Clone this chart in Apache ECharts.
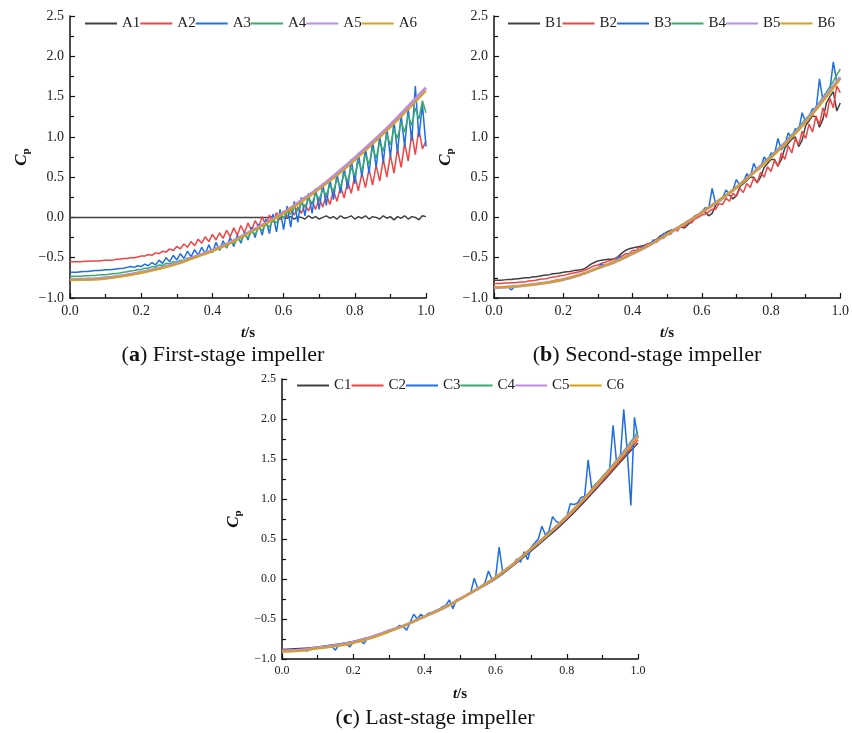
<!DOCTYPE html>
<html>
<head>
<meta charset="utf-8">
<script src="https://cdn.jsdelivr.net/npm/echarts@6/dist/echarts.min.js"></script>
<style>
  html, body { margin: 0; padding: 0; background: #fff; }
  #main { width: 852px; height: 733px; }
</style>
</head>
<body>
<div id="main"></div>
<script>
// time stamps (s)
const T_FINE = [
  0.00, 0.01, 0.02, 0.03, 0.04, 0.05, 0.06, 0.07, 0.08, 0.09,
  0.10, 0.11, 0.12, 0.13, 0.14, 0.15, 0.16, 0.17, 0.18, 0.19,
  0.20, 0.21, 0.22, 0.23, 0.24, 0.25, 0.26, 0.27, 0.28, 0.29,
  0.30, 0.31, 0.32, 0.33, 0.34, 0.35, 0.36, 0.37, 0.38, 0.39,
  0.40, 0.41, 0.42, 0.43, 0.44, 0.45, 0.46, 0.47, 0.48, 0.49,
  0.50, 0.51, 0.52, 0.53, 0.54, 0.55, 0.56, 0.57, 0.58, 0.59,
  0.60, 0.61, 0.62, 0.63, 0.64, 0.65, 0.66, 0.67, 0.68, 0.69,
  0.70, 0.71, 0.72, 0.73, 0.74, 0.75, 0.76, 0.77, 0.78, 0.79,
  0.80, 0.81, 0.82, 0.83, 0.84, 0.85, 0.86, 0.87, 0.88, 0.89,
  0.90, 0.91, 0.92, 0.93, 0.94, 0.95, 0.96, 0.97, 0.98, 0.99, 1.00
];
const T_COARSE = [0.00, 0.05, 0.10, 0.15, 0.20, 0.25, 0.30, 0.35, 0.40, 0.45, 0.50,
  0.55, 0.60, 0.65, 0.70, 0.75, 0.80, 0.85, 0.90, 0.95, 1.00];

// (a) first-stage impeller
const A1 = [
  0, 0, 0, 0, 0, 0, 0, 0, 0, 0,
  0, 0, 0, 0, 0, 0, 0, 0, 0, 0,
  0, 0, 0, 0, 0, 0, 0, 0, 0, 0,
  0, 0, 0, 0, 0, 0, 0, 0, 0, 0,
  0, 0, 0, 0, 0, 0, 0, 0, 0, 0,
  0, 0, 0, 0, 0, 0, 0, 0.01, -0.01, 0.02,
  0.00, -0.01, 0.01, -0.02, 0.01, 0.00, -0.02, 0.02, -0.01, 0.01,
  -0.02, 0.00, 0.02, -0.01, 0.01, -0.02, 0.02, -0.01, 0.00, 0.02,
  -0.02, 0.01, -0.01, 0.02, -0.02, 0.01, 0.00, -0.02, 0.02, -0.01,
  0.01, -0.03, 0.01, -0.01, 0.02, -0.02, 0.01, 0.00, -0.03, 0.02, 0.01
];
const A2 = [
  -0.55, -0.55, -0.55, -0.55, -0.545, -0.545, -0.54, -0.54, -0.54, -0.535,
  -0.53, -0.53, -0.53, -0.52, -0.52, -0.51, -0.51, -0.50, -0.50, -0.49,
  -0.48, -0.48, -0.46, -0.47, -0.44, -0.45, -0.42, -0.43, -0.39, -0.41,
  -0.36, -0.39, -0.33, -0.37, -0.30, -0.35, -0.27, -0.32, -0.24, -0.30,
  -0.21, -0.28, -0.19, -0.26, -0.16, -0.24, -0.13, -0.22, -0.10, -0.19,
  -0.07, -0.16, -0.04, -0.12, 0.01, -0.10, 0.03, -0.06, 0.06, -0.03,
  0.08, 0.00, 0.10, 0.03, 0.13, 0.05, 0.16, 0.08, 0.20, 0.10,
  0.24, 0.13, 0.28, 0.16, 0.33, 0.20, 0.38, 0.24, 0.45, 0.30,
  0.52, 0.33, 0.55, 0.37, 0.60, 0.40, 0.65, 0.45, 0.72, 0.50,
  0.78, 0.55, 0.85, 0.62, 0.92, 0.70, 1.05, 0.78, 1.10, 0.85, 0.95
];
const A3 = [
  -0.68, -0.68, -0.68, -0.675, -0.67, -0.67, -0.665, -0.66, -0.66, -0.655,
  -0.65, -0.65, -0.645, -0.64, -0.635, -0.63, -0.62, -0.61, -0.62, -0.60,
  -0.61, -0.58, -0.60, -0.56, -0.59, -0.53, -0.57, -0.50, -0.55, -0.47,
  -0.53, -0.45, -0.51, -0.42, -0.49, -0.40, -0.47, -0.37, -0.45, -0.34,
  -0.44, -0.31, -0.41, -0.29, -0.38, -0.25, -0.36, -0.22, -0.32, -0.18,
  -0.28, -0.12, -0.25, -0.08, -0.22, -0.02, -0.20, 0.04, -0.18, 0.10,
  -0.15, 0.14, -0.12, 0.20, -0.06, 0.25, 0.02, 0.30, 0.05, 0.36,
  0.10, 0.42, 0.15, 0.48, 0.22, 0.55, 0.30, 0.62, 0.35, 0.72,
  0.42, 0.80, 0.50, 0.86, 0.55, 0.95, 0.62, 1.02, 0.68, 1.10,
  0.75, 1.20, 0.80, 1.28, 0.88, 1.35, 0.95, 1.63, 1.00, 1.40, 0.88
];
const A4 = [
  -0.73, -0.73, -0.73, -0.73, -0.725, -0.725, -0.72, -0.72, -0.715, -0.71,
  -0.71, -0.705, -0.70, -0.695, -0.69, -0.68, -0.675, -0.665, -0.66, -0.65,
  -0.645, -0.63, -0.63, -0.61, -0.615, -0.59, -0.595, -0.57, -0.575, -0.55,
  -0.555, -0.53, -0.535, -0.50, -0.51, -0.48, -0.49, -0.45, -0.46, -0.42,
  -0.43, -0.38, -0.40, -0.35, -0.37, -0.31, -0.33, -0.27, -0.29, -0.22,
  -0.25, -0.18, -0.21, -0.13, -0.16, -0.08, -0.12, -0.03, -0.07, 0.03,
  -0.01, 0.08, 0.04, 0.13, 0.08, 0.18, 0.13, 0.23, 0.18, 0.29,
  0.23, 0.34, 0.28, 0.40, 0.33, 0.47, 0.38, 0.54, 0.45, 0.62,
  0.52, 0.70, 0.58, 0.78, 0.66, 0.86, 0.74, 0.94, 0.82, 1.03,
  0.90, 1.10, 0.98, 1.18, 1.06, 1.27, 1.14, 1.36, 1.22, 1.45, 1.30
];
const A5 = [-0.77, -0.765, -0.75, -0.72, -0.68, -0.63, -0.57, -0.49, -0.41, -0.31, -0.19,
  -0.07, 0.06, 0.21, 0.37, 0.55, 0.74, 0.94, 1.15, 1.38, 1.61];
const A6 = [-0.78, -0.775, -0.76, -0.73, -0.69, -0.64, -0.58, -0.50, -0.42, -0.32, -0.20,
  -0.08, 0.05, 0.19, 0.35, 0.52, 0.71, 0.91, 1.12, 1.34, 1.57];

// (b) second-stage impeller
const B1 = [
  -0.78, -0.78, -0.78, -0.775, -0.77, -0.77, -0.765, -0.76, -0.755, -0.75,
  -0.75, -0.74, -0.735, -0.73, -0.72, -0.715, -0.71, -0.70, -0.695, -0.69,
  -0.68, -0.675, -0.67, -0.66, -0.655, -0.65, -0.64, -0.61, -0.58, -0.56,
  -0.54, -0.53, -0.525, -0.52, -0.52, -0.51, -0.48, -0.44, -0.41, -0.39,
  -0.38, -0.37, -0.36, -0.35, -0.34, -0.32, -0.30, -0.27, -0.23, -0.21,
  -0.18, -0.16, -0.15, -0.13, -0.12, -0.13, -0.09, -0.04, -0.01, 0.03,
  0.06, 0.07, 0.02, 0.05, 0.15, 0.20, 0.23, 0.27, 0.28, 0.23,
  0.27, 0.38, 0.42, 0.46, 0.50, 0.50, 0.43, 0.50, 0.62, 0.67,
  0.72, 0.72, 0.64, 0.72, 0.86, 0.92, 0.97, 1.00, 0.88, 0.96,
  1.14, 1.20, 1.26, 1.25, 1.12, 1.22, 1.42, 1.50, 1.56, 1.32, 1.42
];
const B2 = [
  -0.82, -0.82, -0.82, -0.815, -0.815, -0.81, -0.81, -0.805, -0.80, -0.80,
  -0.79, -0.785, -0.78, -0.77, -0.765, -0.76, -0.75, -0.74, -0.735, -0.725,
  -0.72, -0.71, -0.70, -0.69, -0.68, -0.67, -0.66, -0.64, -0.62, -0.60,
  -0.59, -0.57, -0.56, -0.54, -0.53, -0.51, -0.49, -0.48, -0.45, -0.45,
  -0.41, -0.41, -0.37, -0.38, -0.33, -0.34, -0.29, -0.31, -0.25, -0.26,
  -0.20, -0.21, -0.15, -0.17, -0.10, -0.12, -0.06, -0.07, -0.02, 0.00,
  0.03, 0.04, 0.07, 0.10, 0.10, 0.17, 0.16, 0.24, 0.20, 0.30,
  0.26, 0.36, 0.31, 0.42, 0.37, 0.49, 0.43, 0.56, 0.50, 0.63,
  0.57, 0.71, 0.63, 0.80, 0.72, 0.89, 0.80, 0.98, 0.90, 1.07,
  0.98, 1.16, 1.06, 1.26, 1.15, 1.36, 1.24, 1.48, 1.36, 1.63, 1.55
];
const B3 = [
  -0.87, -0.87, -0.87, -0.865, -0.86, -0.90, -0.855, -0.85, -0.85, -0.845,
  -0.84, -0.835, -0.83, -0.82, -0.81, -0.81, -0.80, -0.79, -0.78, -0.775,
  -0.77, -0.76, -0.75, -0.74, -0.72, -0.71, -0.70, -0.68, -0.66, -0.65,
  -0.63, -0.58, -0.60, -0.58, -0.56, -0.54, -0.49, -0.51, -0.48, -0.46,
  -0.45, -0.41, -0.41, -0.36, -0.36, -0.34, -0.28, -0.29, -0.25, -0.20,
  -0.21, -0.17, -0.15, -0.14, -0.10, -0.08, -0.04, -0.03, 0.02, 0.03,
  0.07, 0.12, 0.11, 0.36, 0.17, 0.22, 0.24, 0.34, 0.29, 0.34,
  0.47, 0.40, 0.44, 0.54, 0.50, 0.67, 0.58, 0.62, 0.75, 0.69,
  0.80, 0.78, 0.98, 0.84, 0.90, 1.05, 0.98, 1.10, 1.08, 1.30,
  1.18, 1.25, 1.35, 1.33, 1.72, 1.45, 1.50, 1.58, 1.93, 1.68, 1.72
];
const B4 = [-0.87, -0.86, -0.84, -0.81, -0.77, -0.71, -0.63, -0.55, -0.45, -0.34, -0.21,
  -0.08, 0.07, 0.22, 0.38, 0.57, 0.77, 0.98, 1.22, 1.49, 1.84];
const B5 = [-0.87, -0.86, -0.84, -0.81, -0.77, -0.71, -0.63, -0.55, -0.45, -0.34, -0.21,
  -0.08, 0.06, 0.21, 0.37, 0.56, 0.75, 0.96, 1.19, 1.46, 1.74];
const B6 = [-0.87, -0.86, -0.84, -0.81, -0.77, -0.71, -0.63, -0.55, -0.45, -0.34, -0.21,
  -0.08, 0.06, 0.21, 0.37, 0.55, 0.74, 0.95, 1.18, 1.44, 1.72];

// (c) last-stage impeller
const C1 = [-0.88, -0.87, -0.85, -0.82, -0.78, -0.72, -0.65, -0.57, -0.47, -0.37, -0.25,
  -0.13, 0.00, 0.17, 0.35, 0.54, 0.74, 0.97, 1.21, 1.46, 1.70];
const C2 = [-0.89, -0.88, -0.86, -0.83, -0.79, -0.73, -0.65, -0.57, -0.47, -0.37, -0.25,
  -0.12, 0.02, 0.18, 0.37, 0.56, 0.76, 0.99, 1.23, 1.48, 1.74];
const C3 = [
  -0.90, -0.90, -0.895, -0.89, -0.89, -0.885, -0.88, -0.90, -0.875, -0.87,
  -0.86, -0.86, -0.85, -0.84, -0.84, -0.89, -0.82, -0.81, -0.80, -0.85,
  -0.79, -0.78, -0.77, -0.81, -0.74, -0.73, -0.72, -0.70, -0.69, -0.67,
  -0.64, -0.64, -0.62, -0.58, -0.59, -0.64, -0.54, -0.44, -0.50, -0.44,
  -0.48, -0.43, -0.42, -0.40, -0.38, -0.35, -0.33, -0.26, -0.37, -0.26,
  -0.25, -0.22, -0.20, -0.17, 0.01, -0.12, -0.09, -0.05, 0.10, -0.01,
  0.02, 0.40, 0.08, 0.12, 0.14, 0.19, 0.25, 0.21, 0.34, 0.24,
  0.40, 0.45, 0.50, 0.66, 0.55, 0.60, 0.78, 0.72, 0.70, 0.74,
  0.78, 0.94, 0.93, 0.95, 1.02, 1.03, 1.49, 1.13, 1.18, 1.22,
  1.25, 1.31, 1.36, 1.92, 1.45, 1.50, 2.12, 1.58, 0.92, 2.02, 1.76
];
const C4 = [-0.90, -0.89, -0.86, -0.83, -0.79, -0.73, -0.65, -0.57, -0.47, -0.37, -0.25,
  -0.12, 0.02, 0.19, 0.38, 0.57, 0.79, 1.02, 1.28, 1.54, 1.84];
const C5 = [-0.90, -0.89, -0.86, -0.83, -0.79, -0.73, -0.65, -0.57, -0.47, -0.37, -0.25,
  -0.12, 0.02, 0.19, 0.38, 0.57, 0.78, 1.01, 1.26, 1.52, 1.80];
const C6 = [-0.91, -0.90, -0.87, -0.84, -0.80, -0.74, -0.66, -0.57, -0.47, -0.37, -0.25,
  -0.12, 0.02, 0.19, 0.38, 0.57, 0.78, 1.01, 1.26, 1.51, 1.78];

const NAMES_A = ['A1', 'A2', 'A3', 'A4', 'A5', 'A6'];
const NAMES_B = ['B1', 'B2', 'B3', 'B4', 'B5', 'B6'];
const NAMES_C = ['C1', 'C2', 'C3', 'C4', 'C5', 'C6'];
const CAPTIONS = ['({b|a}) First-stage impeller', '({b|b}) Second-stage impeller', '({b|c}) Last-stage impeller'];

const COLORS = ['#404040', '#f04444', '#1f6fe3', '#3aab6c', '#ba8de2', '#d5a11d'];
const WIDTHS = [1.5, 1.5, 1.5, 1.5, 3, 2];
const FONT = 'Liberation Serif';

const panels = [
  { names: NAMES_A, values: [A1, A2, A3, A4, A5, A6], grid: { left: 70, top: 16, width: 356, height: 282 },
    legendLeft: 85, legendTop: 16, caption: [223, 355], labelSize: 14 },
  { names: NAMES_B, values: [B1, B2, B3, B4, B5, B6], grid: { left: 494, top: 16, width: 355, height: 282 },
    legendLeft: 508, legendTop: 16, caption: [647, 355], labelSize: 14 },
  { names: NAMES_C, values: [C1, C2, C3, C4, C5, C6], grid: { left: 282, top: 379, width: 356, height: 280 },
    legendLeft: 297, legendTop: 378, caption: [435, 718], labelSize: 12 }
];

function pairs(vals) {
  const t = vals.length === T_FINE.length ? T_FINE : T_COARSE;
  return vals.map((v, i) => [t[i], v]);
}

const axisLine = { show: true, onZero: false, lineStyle: { color: '#111', width: 1.5 } };
const fmt = v => v.toFixed(1).replace('-', '\u2212');

const grids = [], xAxes = [], yAxes = [], legends = [], series = [], graphics = [];

panels.forEach((p, gi) => {
  grids.push(p.grid);
  xAxes.push({
    type: 'value', gridIndex: gi, min: 0, max: 1, interval: 0.2,
    axisLine, splitLine: { show: false },
    axisTick: { inside: true, length: 5, lineStyle: { color: '#111', width: 1.2 } },
    minorTick: { show: true, splitNumber: 2, length: 4, lineStyle: { color: '#111', width: 1.2 } },
    axisLabel: { formatter: fmt, fontFamily: FONT, fontSize: p.labelSize, color: '#222', margin: 6 },
    name: '{t|t}{s|/s}', nameLocation: 'middle', nameGap: 28,
    nameTextStyle: { rich: {
      t: { fontFamily: FONT, fontStyle: 'italic', fontWeight: 'bold', fontSize: 15, color: '#111' },
      s: { fontFamily: FONT, fontWeight: 'bold', fontSize: 15, color: '#111' }
    } }
  });
  yAxes.push({
    type: 'value', gridIndex: gi, min: -1, max: 2.5, interval: 0.5,
    axisLine, splitLine: { show: false },
    axisTick: { inside: true, length: 5, lineStyle: { color: '#111', width: 1.2 } },
    minorTick: { show: true, splitNumber: 2, length: 4, lineStyle: { color: '#111', width: 1.2 } },
    axisLabel: { formatter: fmt, fontFamily: FONT, fontSize: p.labelSize, color: '#222', margin: 6 },
    name: '{c|C}{p|p}', nameLocation: 'middle', nameGap: 38,
    nameTextStyle: { rich: {
      c: { fontFamily: FONT, fontStyle: 'italic', fontWeight: 'bold', fontSize: 17, color: '#111' },
      p: { fontFamily: FONT, fontWeight: 'bold', fontSize: 11, color: '#111', padding: [10, 0, 0, 0] }
    } }
  });
  legends.push({
    data: p.names, left: p.legendLeft, top: p.legendTop, orient: 'horizontal',
    icon: 'rect', itemWidth: 32, itemHeight: 2, itemGap: 0, padding: 0,
    textStyle: { fontFamily: FONT, fontSize: 15, color: '#222' }
  });
  p.values.forEach((vals, si) => {
    series.push({
      name: p.names[si], type: 'line', xAxisIndex: gi, yAxisIndex: gi,
      data: pairs(vals), symbol: 'none', smooth: vals.length === T_COARSE.length,
      lineStyle: { color: COLORS[si], width: WIDTHS[si] },
      itemStyle: { color: COLORS[si] },
      animation: false
    });
  });
  graphics.push({
    type: 'text', x: p.caption[0], y: p.caption[1],
    style: {
      text: CAPTIONS[gi], fontFamily: FONT, fontSize: 22, fill: '#111',
      align: 'center', verticalAlign: 'middle',
      rich: { b: { fontFamily: FONT, fontSize: 22, fontWeight: 'bold', fill: '#111' } }
    }
  });
});

const chart = echarts.init(document.getElementById('main'), null, { renderer: 'canvas' });
chart.setOption({
  backgroundColor: '#fff',
  animation: false,
  grid: grids,
  xAxis: xAxes,
  yAxis: yAxes,
  legend: legends,
  series,
  graphic: graphics
});
</script>
</body>
</html>
